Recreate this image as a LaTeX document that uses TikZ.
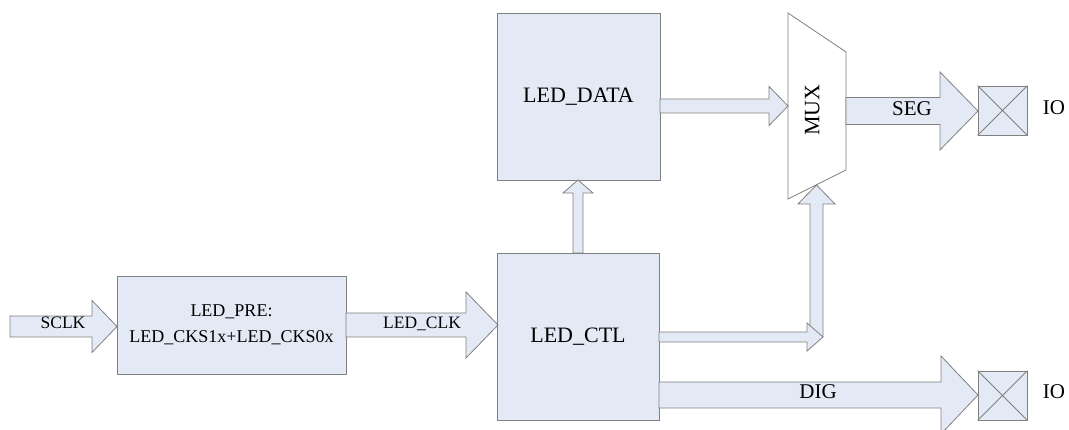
\documentclass[tikz,border=0pt]{standalone}
\usepackage{fontspec}
\setmainfont{Liberation Serif}
\definecolor{bfill}{RGB}{228,234,245}
\definecolor{bline}{RGB}{128,128,128}
\tikzset{
 blk/.style={draw=bline, fill=bfill, line width=0.8pt, inner sep=0pt, align=center},
 bus/.style={draw=bline, fill=bfill, line width=0.8pt, line join=miter},
 lbl/.style={inner sep=0pt, text height=0.66em, text depth=0pt},
 big/.style={font=\fontsize{22}{26}\selectfont},
 mid/.style={font=\fontsize{21}{25}\selectfont},
 small/.style={font=\fontsize{17.5}{21}\selectfont}
}
% right-pointing bus arrow: x0, xhead, xtip, ycenter, shaft half, head half
\newcommand\rbus[6]{%
 \draw[bus] (#1,#4-#5) -- (#2,#4-#5) -- (#2,#4-#6) -- (#3,#4) -- (#2,#4+#6) -- (#2,#4+#5) -- (#1,#4+#5) -- cycle;}
% up-pointing bus arrow: xcenter, ybottom, yhead, ytip, shaft half, head half
\newcommand\ubus[6]{%
 \draw[bus] (#1-#5,#2) -- (#1-#5,#3) -- (#1-#6,#3) -- (#1,#4) -- (#1+#6,#3) -- (#1+#5,#3) -- (#1+#5,#2) -- cycle;}
\begin{document}
\begin{tikzpicture}[x=1pt,y=-1pt]
\useasboundingbox (0,0) rectangle (1069,430);
% blocks
\node[blk, minimum width=229pt, minimum height=98pt, font=\fontsize{18}{26}\selectfont] (pre) at (231.5,325) {LED\_PRE:\\LED\_CKS1x+LED\_CKS0x};
\node[blk, big, minimum width=163pt, minimum height=167pt] (data) at (578.5,96.5) {LED\_DATA};
\node[blk, big, minimum width=162pt, minimum height=167pt] (ctl) at (578,336.5) {LED\_CTL};
% MUX
\draw[draw=bline, fill=white, line width=0.8pt] (788,13) -- (846,52) -- (846,170) -- (788,199) -- cycle;
\node[lbl, big, rotate=90] (mux) at (816,110) {MUX};
% bus arrows
\rbus{10}{92}{117}{326.5}{10.5}{26}
\rbus{346}{466}{498}{325}{12}{33}
\rbus{660}{769}{788}{106}{7}{19.5}
\ubus{578}{253}{193}{180}{5}{15}
\rbus{846}{940}{978}{111}{13.5}{39}
\ubus{816.5}{337}{204}{185}{6.5}{18.5}
\rbus{659}{807}{823}{337}{5}{14}
\rbus{659}{941}{978}{395}{13}{39}
% IO pads
\node[blk, minimum size=49pt] (io1) at (1002.5,110.5) {};
\draw[bline, line width=0.8pt] (io1.north west) -- (io1.south east) (io1.north east) -- (io1.south west);
\node[blk, minimum size=49pt] (io2) at (1002.5,395.5) {};
\draw[bline, line width=0.8pt] (io2.north west) -- (io2.south east) (io2.north east) -- (io2.south west);
% labels
\node[lbl, small] (sclk) at (63,325) {SCLK};
\node[lbl, small] (ledclk) at (422,325) {LED\_CLK};
\node[lbl, mid] (seg) at (912,112) {SEG};
\node[lbl, mid] (dig) at (818,395) {DIG};
\node[lbl, mid] (iot) at (1054,111) {IO};
\node[lbl, mid] (iob) at (1054,395) {IO};
\end{tikzpicture}
\end{document}
